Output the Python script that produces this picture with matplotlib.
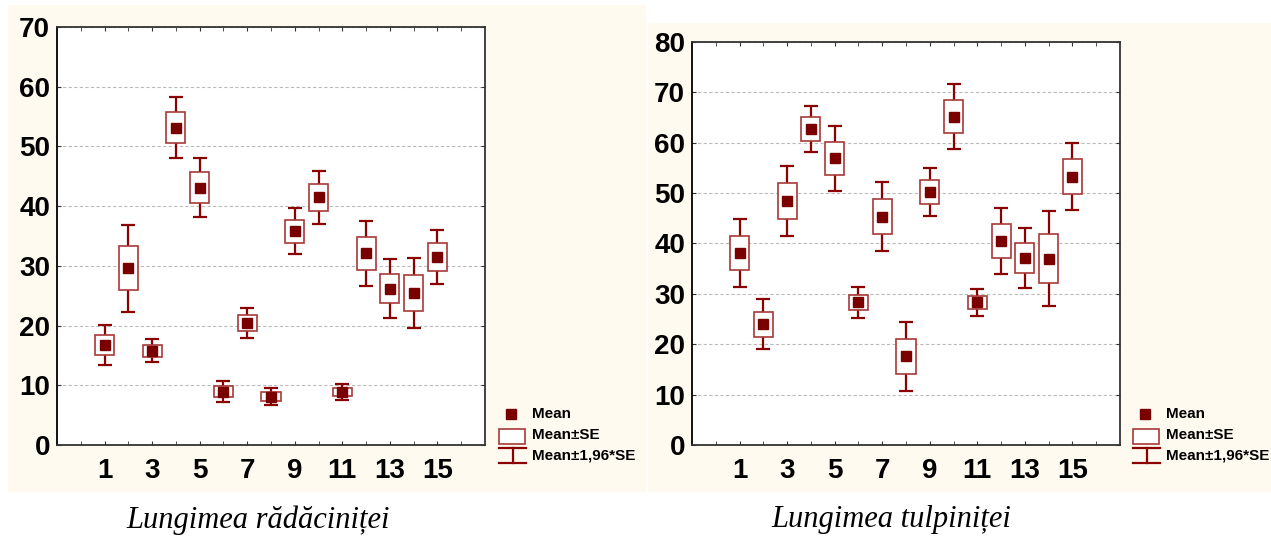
import numpy as np
import matplotlib
matplotlib.use('Agg')
from matplotlib import pyplot as plt
from matplotlib.patches import Rectangle
from matplotlib.lines import Line2D

plt.rcParams.update({
    "font.family": ["Liberation Sans", "DejaVu Sans"],
    "font.weight": "bold",
})

# groups 1..15
groups = np.arange(1, 16)

# root length (Lungimea radacinitei): mean and standard error
root_mean = [16.7, 29.6, 15.8, 53.1, 43.1, 8.9, 20.4, 8.1, 35.8, 41.5, 8.9, 32.1, 26.2, 25.5, 31.5]
root_se = [1.7, 3.7, 1.0, 2.6, 2.55, 0.9, 1.3, 0.75, 1.95, 2.25, 0.7, 2.75, 2.5, 3.0, 2.3]

# stem length (Lungimea tulpinitei)
stem_mean = [38.1, 24.0, 48.5, 62.7, 56.9, 28.3, 45.3, 17.6, 50.2, 65.2, 28.3, 40.5, 37.1, 37.0, 53.3]
stem_se = [3.45, 2.5, 3.55, 2.35, 3.3, 1.53, 3.5, 3.5, 2.4, 3.25, 1.35, 3.3, 3.0, 4.8, 3.4]

xtick_labels = ['1', '3', '5', '7', '9', '11', '13', '15']
legend_labels = ['Mean', 'Mean\u00b1SE', 'Mean\u00b11,96*SE']
captions = ['Lungimea r\u0103d\u0103cini\u021bei', 'Lungimea tulpini\u021bei']

dark = '#8B0000'
boxc = '#A83838'
cream = '#FFFAF0'
W, H = 1271, 540

fig = plt.figure(figsize=(W / 100, H / 100), dpi=100)

def px(x, y):
    return x / W, 1 - y / H

# cream panels behind each chart
fig.add_artist(Rectangle((8 / W, 1 - 492 / H), 638 / W, 487 / H, transform=fig.transFigure,
                         facecolor=cream, edgecolor='none', zorder=0))
fig.add_artist(Rectangle((648 / W, 1 - 492 / H), 623 / W, 469 / H, transform=fig.transFigure,
                         facecolor=cream, edgecolor='none', zorder=0))

ax1 = fig.add_axes([57 / W, 1 - 445 / H, 428 / W, 418 / H])
ax2 = fig.add_axes([692 / W, 1 - 445 / H, 428 / W, 403 / H])


def draw(ax, mean, se, ymax):
    mean = np.array(mean)
    se = np.array(se)
    ax.set_facecolor('white')
    ax.errorbar(groups, mean, yerr=1.96 * se, fmt='none', ecolor=dark,
                elinewidth=1.6, capsize=4.8, capthick=1.6, zorder=2)
    ax.bar(groups, 2 * se, bottom=mean - se, width=0.8, facecolor='white',
           edgecolor=boxc, linewidth=1.2, zorder=3)
    ax.plot(groups, mean, 's', color='#7A0000', markersize=6.5, zorder=4)
    ax.set_xlim(-1, 17)
    ax.set_ylim(0, ymax)
    ax.set_yticks(np.arange(0, ymax + 1, 10))
    ax.set_xticks(np.arange(0, 17), minor=True)
    ax.set_xticks(np.arange(1, 16, 2))
    ax.set_xticklabels(xtick_labels)
    ax.yaxis.grid(True, linestyle=(0, (3, 2)), color='#BBBBBB', linewidth=0.8)
    ax.set_axisbelow(True)
    ax.tick_params(axis='both', which='both', direction='in', length=3,
                   top=True, right=True, color='#333333', labelsize=20)
    ax.tick_params(axis='x', which='major', pad=9)
    ax.tick_params(axis='y', pad=5)
    for lab in ax.get_xticklabels() + ax.get_yticklabels():
        lab.set_fontweight('bold')
    for s in ax.spines.values():
        s.set_color('#333333')
        s.set_linewidth(1.3)
    ax.spines['left'].set_color('black')


draw(ax1, root_mean, root_se, 70)
draw(ax2, stem_mean, stem_se, 80)


def legend(x0):
    # x0: left edge of legend symbols in pixels
    mx, my = px(x0 + 12, 414)
    fig.add_artist(Line2D([mx], [my], marker='s', color='#7A0000', markersize=6.5,
                          linestyle='none', transform=fig.transFigure))
    bx, by = px(x0, 444)
    fig.add_artist(Rectangle((bx, by), 26 / W, 15 / H, transform=fig.transFigure,
                             facecolor='white', edgecolor=boxc, linewidth=1.2))
    xa, yt = px(x0, 448)
    xb, yb = px(x0 + 27, 463)
    xc, _ = px(x0 + 13.5, 0)
    for yy in (yt, yb):
        fig.add_artist(Line2D([xa, xb], [yy, yy], color=dark, linewidth=1.6,
                              transform=fig.transFigure))
    fig.add_artist(Line2D([xc, xc], [yt, yb], color=dark, linewidth=1.6,
                          transform=fig.transFigure))
    for i, lab in enumerate(legend_labels):
        tx, ty = px(x0 + 33, 414 + 21 * i)
        fig.text(tx, ty, lab, fontsize=11, fontweight='bold', va='center', ha='left')


legend(499)
legend(1133)

for cx, cap in zip((258, 891), captions):
    x, y = px(cx, 520)
    fig.text(x, y, cap, fontsize=22, family=['Liberation Serif', 'DejaVu Serif'],
             style='italic', fontweight='normal', ha='center', va='center')

fig.savefig('out.png', dpi=100, facecolor='white')
